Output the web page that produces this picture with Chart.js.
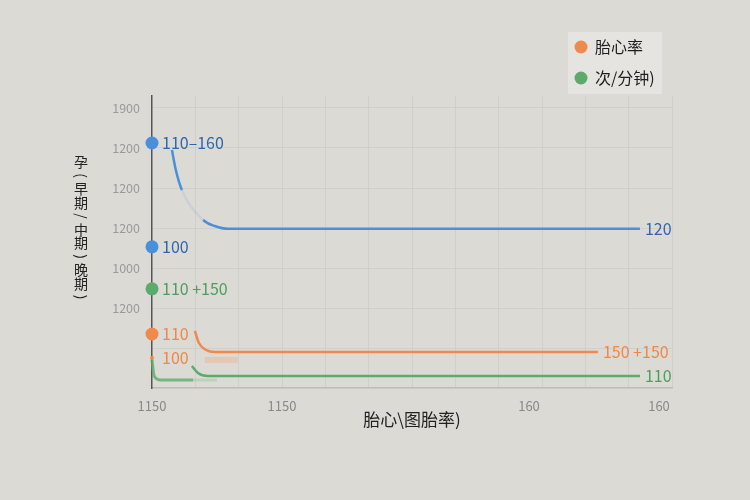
<!DOCTYPE html>
<html>
<head>
<meta charset="utf-8">
<script src="https://cdn.jsdelivr.net/npm/chart.js@4.4.1/dist/chart.umd.min.js"></script>
<style>
  html, body { margin: 0; padding: 0; background: #dcdad5; }
  #wrap { width: 750px; height: 500px; }
</style>
</head>
<body>
<div id="wrap"><canvas id="chart" width="750" height="500"></canvas></div>
<script>
// Datos
const xTickValues = [0, 3, 8.7, 11.7];
const xTickLabels = ["1150", "1150", "160", "160"];
const yTickValues = [2, 3, 4, 5, 6, 7];
const yTickLabels = ["1200", "1000", "1200", "1200", "1200", "1900"];

const seriesNames = ["胎心率", "次/分钟)"];
const xTitle = "胎心\\图胎率)";
const yTitle = "孕(早期/中期)晚期)";

const blueX = [0.46, 0.55, 0.69, 1.18, 1.45, 1.75, 11.26];
const blueY = [5.95, 5.45, 4.95, 4.2, 4.05, 3.98, 3.98];
const orangeX = [0.99, 1.08, 1.25, 1.45, 10.29];
const orangeY = [1.43, 1.13, 0.95, 0.9, 0.9];
const orangeFadeX = [1.22, 1.98];
const orangeFadeY = [0.7, 0.7];
const greenX = [0.92, 1.06, 1.29, 11.26];
const greenY = [0.55, 0.375, 0.3, 0.3];
const greenLowX = [0, 0.05, 0.2, 0.95, 1.5];
const greenLowY = [0.7, 0.3, 0.2, 0.2, 0.2];

const markerY = [6.125, 3.53, 2.48, 1.35, 0.75];
const markerLabels = ["110\u2013160", "100", "110 +150", "110", "100"];
const endLabels = ["120", "150 +150", "110"];

// Colores
const BLUE = "#4a8fdb", BLUE_TXT = "#2f66b0";
const ORANGE = "#f0894c", ORANGE_TXT = "#ee8748";
const GREEN = "#5cab6c", GREEN_TXT = "#4d9d5c";
const FONT = "'Noto Sans CJK SC', 'Noto Sans', sans-serif";

function pts(xs, ys) {
    return xs.map((x, i) => ({ x: x, y: ys[i] }));
}

// Plugin para las etiquetas de los puntos y finales de línea
const labelPlugin = {
    id: "labelPlugin",
    afterDatasetsDraw(chart) {
        const ctx = chart.ctx;
        ctx.save();
        ctx.textBaseline = "middle";
        ctx.textAlign = "left";
        chart.data.datasets.forEach((ds, i) => {
            const meta = chart.getDatasetMeta(i);
            if (ds.pointLabels) {
                meta.data.forEach((el, j) => {
                    ctx.fillStyle = ds.labelColors[j];
                    ctx.font = "16px " + FONT;
                    ctx.fillText(ds.pointLabels[j], el.x + 10, el.y);
                });
            }
            if (ds.endLabel) {
                const last = meta.data[meta.data.length - 1];
                ctx.fillStyle = ds.endColor;
                ctx.font = "16px " + FONT;
                ctx.fillText(ds.endLabel, last.x + 5, last.y);
            }
        });
        ctx.restore();
    }
};

// Plugin para leyenda y título vertical
const extrasPlugin = {
    id: "extrasPlugin",
    afterDraw(chart) {
        const ctx = chart.ctx;
        ctx.save();
        // leyenda
        ctx.fillStyle = "#e6e4e0";
        ctx.fillRect(568, 32, 94, 62);
        const colors = [ORANGE, GREEN];
        seriesNames.forEach((name, i) => {
            const y = 47 + i * 31;
            ctx.beginPath();
            ctx.fillStyle = colors[i];
            ctx.arc(581, y, 6.5, 0, Math.PI * 2);
            ctx.fill();
            ctx.fillStyle = "#1e1e1e";
            ctx.font = "16px " + FONT;
            ctx.textBaseline = "middle";
            ctx.fillText(name, 595, y);
        });
        // título eje Y (vertical, caracteres apilados)
        ctx.fillStyle = "#222";
        ctx.font = "14px " + FONT;
        ctx.textAlign = "center";
        ctx.textBaseline = "middle";
        [...yTitle].forEach((ch, i) => {
            const y = 162 + i * 13.5;
            if ("()/".includes(ch)) {
                ctx.save();
                ctx.translate(81, y);
                ctx.rotate(Math.PI / 2);
                ctx.fillText(ch, 0, 0);
                ctx.restore();
            } else {
                ctx.fillText(ch, 81, y);
            }
        });
        ctx.restore();
    }
};

const gridColor = (c) => (c.tick && Number.isInteger(c.tick.value) && c.tick.value > 0) ? "rgba(196,194,188,0.45)" : "transparent";

new Chart(document.getElementById("chart"), {
    type: "line",
    data: {
        datasets: [
            {
                label: "blue",
                data: pts(blueX, blueY),
                borderColor: BLUE,
                borderWidth: 2.5,
                pointRadius: 0,
                cubicInterpolationMode: "monotone",
                segment: { borderColor: c => c.p0DataIndex === 2 ? "rgba(74,143,219,0.12)" : undefined },
                endLabel: endLabels[0],
                endColor: BLUE_TXT
            },
            {
                label: seriesNames[0],
                data: pts(orangeX, orangeY),
                borderColor: ORANGE,
                borderWidth: 2.5,
                pointRadius: 0,
                cubicInterpolationMode: "monotone",
                endLabel: endLabels[1],
                endColor: ORANGE_TXT
            },
            {
                label: "orangeFade",
                data: pts(orangeFadeX, orangeFadeY),
                borderColor: "rgba(245,170,130,0.4)",
                borderWidth: 6,
                pointRadius: 0
            },
            {
                label: seriesNames[1],
                data: pts(greenX, greenY),
                borderColor: GREEN,
                borderWidth: 2.5,
                pointRadius: 0,
                cubicInterpolationMode: "monotone",
                endLabel: endLabels[2],
                endColor: GREEN_TXT
            },
            {
                label: "greenLow",
                data: pts(greenLowX, greenLowY),
                borderColor: "rgba(92,171,108,0.8)",
                borderWidth: 3,
                pointRadius: 0,
                cubicInterpolationMode: "monotone",
                segment: { borderColor: c => c.p0DataIndex === 3 ? "rgba(150,200,160,0.45)" : undefined },
                clip: false
            },
            {
                label: "markers",
                data: markerY.map(y => ({ x: 0, y: y })),
                showLine: false,
                pointRadius: [6.5, 6.5, 6.5, 6.5, 2],
                pointBackgroundColor: [BLUE, BLUE, GREEN, ORANGE, ORANGE],
                pointBorderWidth: 0,
                pointLabels: markerLabels,
                labelColors: [BLUE_TXT, BLUE_TXT, GREEN_TXT, ORANGE_TXT, ORANGE_TXT],
                clip: false
            }
        ]
    },
    options: {
        responsive: false,
        animation: false,
        devicePixelRatio: 1,
        layout: { padding: { left: 0, right: 78, top: 96, bottom: 70 } },
        plugins: { legend: { display: false }, tooltip: { enabled: false } },
        scales: {
            x: {
                type: "linear",
                min: 0,
                max: 12,
                afterFit: s => { s.height = 42; },
                afterBuildTicks: axis => {
                    const vals = new Set([0, 1, 2, 3, 4, 5, 6, 7, 8, 9, 10, 11, 12, ...xTickValues]);
                    axis.ticks = [...vals].sort((a, b) => a - b).map(v => ({ value: v }));
                },
                ticks: {
                    autoSkip: false,
                    maxRotation: 0,
                    padding: 10,
                    color: "#8a8986",
                    font: { size: 13, family: FONT },
                    callback: v => {
                        const k = xTickValues.indexOf(v);
                        return k >= 0 ? xTickLabels[k] : "";
                    }
                },
                grid: { color: gridColor, drawTicks: false },
                border: { color: "#bdbbb6", width: 1.5 },
                title: { display: true, text: xTitle, color: "#222", font: { size: 17, family: FONT }, padding: 0 }
            },
            y: {
                type: "linear",
                min: 0,
                max: 7.3,
                afterFit: s => { s.width = 152; },
                afterBuildTicks: axis => {
                    axis.ticks = [0, 1, 2, 3, 4, 5, 6, 7].map(v => ({ value: v }));
                },
                ticks: {
                    padding: 12,
                    color: "#9a9996",
                    font: { size: 12.5, family: FONT },
                    callback: v => {
                        const k = yTickValues.indexOf(v);
                        return k >= 0 ? yTickLabels[k] : "";
                    }
                },
                grid: { color: gridColor, drawTicks: false },
                border: { color: "#555", width: 1.5 }
            }
        }
    },
    plugins: [labelPlugin, extrasPlugin]
});
</script>
</body>
</html>
